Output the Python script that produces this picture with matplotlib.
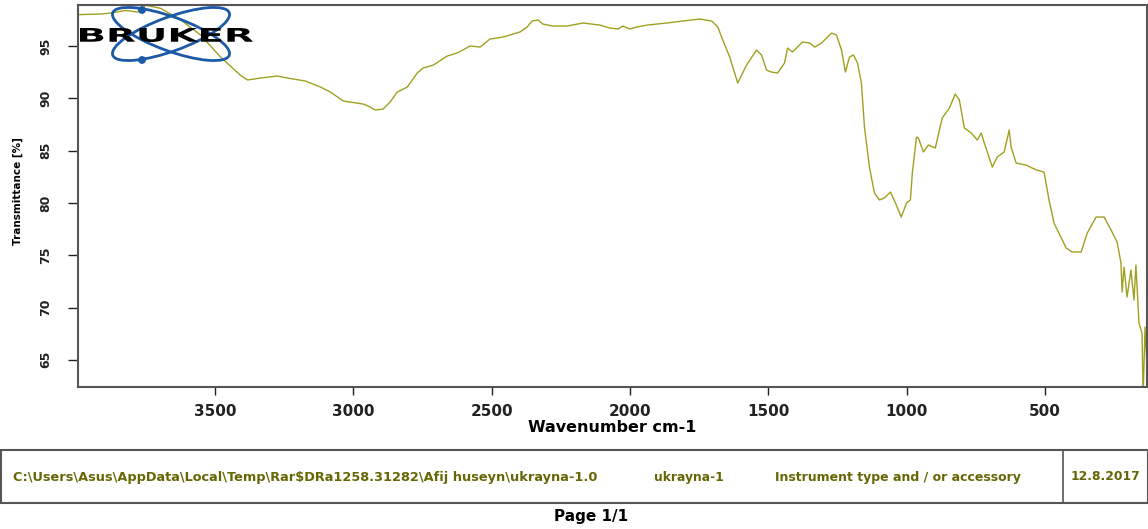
import numpy as np
import matplotlib
matplotlib.use("Agg")
import matplotlib.pyplot as plt
from matplotlib.patches import Ellipse, Circle, Rectangle, PathPatch
from matplotlib.textpath import TextPath
from matplotlib.font_manager import FontProperties
from matplotlib.transforms import Affine2D

# IR spectrum (wavenumber cm-1, transmittance %)
wavenumber = [3992, 3913, 3877, 3823, 3779, 3750, 3696, 3624, 3552, 3480,
              3408, 3382, 3336, 3274, 3238, 3173, 3119, 3083, 3036, 2964,
              2946, 2921, 2892, 2867, 2841, 2805, 2769, 2748, 2711, 2661,
              2625, 2578, 2542, 2506, 2459, 2398, 2372, 2354, 2333, 2315,
              2279, 2228, 2170, 2109, 2073, 2044, 2026, 2001, 1976, 1939,
              1867, 1810, 1748, 1705, 1683, 1665, 1640, 1611, 1579, 1543,
              1525, 1507, 1489, 1467, 1442, 1431, 1413, 1377, 1351, 1333,
              1308, 1272, 1254, 1236, 1222, 1207, 1193, 1178, 1164, 1153,
              1135, 1117, 1099, 1081, 1059, 1041, 1020, 1001, 987, 980,
              965, 958, 940, 922, 897, 872, 846, 825, 810, 792,
              767, 745, 731, 720, 691, 673, 648, 630, 623, 605,
              569, 532, 504, 486, 468, 424, 403, 370, 348, 316,
              287, 262, 240, 226, 222, 215, 204, 190, 179, 172,
              161, 150, 146, 139, 132]
transmittance = [98.0, 98.06, 98.15, 98.4, 98.25, 98.9, 98.6, 97.5, 96.05, 93.95,
                 92.2, 91.75, 91.94, 92.13, 91.94, 91.65, 91.08, 90.6, 89.74, 89.45,
                 89.26, 88.88, 88.98, 89.65, 90.6, 91.08, 92.42, 92.9, 93.18, 94.04,
                 94.33, 95.0, 94.9, 95.67, 95.86, 96.34, 96.82, 97.39, 97.49, 97.1,
                 96.91, 96.91, 97.2, 97.0, 96.72, 96.63, 96.91, 96.63, 96.82, 97.0,
                 97.2, 97.39, 97.58, 97.39, 96.82, 95.57, 93.95, 91.46, 93.18, 94.62,
                 94.14, 92.7, 92.51, 92.42, 93.37, 94.81, 94.43, 95.38, 95.29, 94.9,
                 95.29, 96.24, 96.05, 94.62, 92.51, 93.95, 94.14, 93.37, 91.46, 87.26,
                 83.43, 80.95, 80.28, 80.47, 81.04, 79.99, 78.65, 79.99, 80.28, 82.86,
                 86.3, 86.2, 84.87, 85.54, 85.25, 88.12, 89.07, 90.41, 89.84, 87.16,
                 86.68, 86.01, 86.68, 85.73, 83.43, 84.39, 84.87, 86.97, 85.34, 83.81,
                 83.62, 83.15, 82.95, 80.28, 78.08, 75.69, 75.31, 75.31, 77.12, 78.65,
                 78.65, 77.41, 76.26, 74.25, 71.48, 73.87, 71.0, 73.58, 70.72, 74.06,
                 68.52, 67.56, 61.5, 68.14, 64.3]

x_ticks = [3500, 3000, 2500, 2000, 1500, 1000, 500]
y_ticks = [95, 90, 85, 80, 75, 70, 65]

footer_path = r"C:\Users\Asus\AppData\Local\Temp\Rar$DRa1258.31282\Afij huseyn\ukrayna-1.0"
footer_sample = "ukrayna-1"
footer_instr = "Instrument type and / or accessory"
footer_date = "12.8.2017"

W, H = 1148, 529
line_col = "#a0a020"
text_col = "#666604"
font = "DejaVu Sans"

fig = plt.figure(figsize=(W / 100, H / 100), dpi=100)
fig.patch.set_facecolor("white")

ax = fig.add_axes([78 / W, 1 - 387 / H, (1147 - 78) / W, (387 - 4.7) / H])
ax.plot(wavenumber, transmittance, color=line_col, lw=1.0)
ax.set_xlim(3995, 132)
ax.set_ylim(62.4, 98.95)

ax.set_xticks(x_ticks)
ax.set_xticklabels([str(v) for v in x_ticks], fontsize=11, fontweight="bold", family=font)
ax.set_yticks(y_ticks)
ax.set_yticklabels([str(v) for v in y_ticks], fontsize=9, fontweight="bold",
                   family=font, rotation=90, va="center")
ax.tick_params(axis="x", direction="out", length=6, width=1, pad=6, colors="#222222")
ax.tick_params(axis="y", direction="out", length=7.5, width=1, pad=11, colors="#222222")
for s in ax.spines.values():
    s.set_color("#555555")
    s.set_linewidth(1.5)

fig.text(18 / W, 1 - 191 / H, "Transmittance [%]", rotation=90, fontsize=7.5,
         fontweight="bold", family=font, ha="center", va="center")
fig.text(612 / W, 1 - 427 / H, "Wavenumber cm-1", fontsize=11.5, fontweight="bold",
         family=font, ha="center", va="center")

# overlay in pixel units for logo and footer
ov = fig.add_axes([0, 0, 1, 1], zorder=5)
ov.set_xlim(0, W)
ov.set_ylim(H, 0)
ov.axis("off")
ov.patch.set_alpha(0)

# Bruker logo
blue = "#1b5aa6"
for ang in (20, -20):
    ov.add_patch(Ellipse((171, 34), 124, 34, angle=ang, fill=False, ec=blue, lw=2.0))
for cy in (10, 60):
    ov.add_patch(Circle((142, cy), 3.2, color=blue))
tp = TextPath((0, 0), "BRUKER", size=10, prop=FontProperties(family=font, weight="bold"))
bb = tp.get_extents()
sx = (253 - 80) / bb.width
sy = 14 / bb.height
tr = Affine2D().translate(-bb.x0, -bb.y0).scale(sx, -sy).translate(80, 42) + ov.transData
ov.add_patch(PathPatch(tp, transform=tr, fc="black", ec="none"))

# footer box
ov.add_patch(Rectangle((1, 450), W - 1, 52.5, fill=False, ec="#555555", lw=1.5))
ov.plot([1063, 1063], [450, 502.5], color="#555555", lw=1.2)
ov.text(13, 477, footer_path, fontsize=9.3, fontweight="bold", family=font,
        color=text_col, ha="left", va="center")
ov.text(654, 477, footer_sample, fontsize=8.8, fontweight="bold", family=font,
        color=text_col, ha="left", va="center")
ov.text(775, 477, footer_instr, fontsize=9.0, fontweight="bold", family=font,
        color=text_col, ha="left", va="center")
ov.text(1071, 477, footer_date, fontsize=8.8, fontweight="bold", family=font,
        color=text_col, ha="left", va="center")
ov.text(591, 517, "Page 1/1", fontsize=11, fontweight="bold", family=font,
        ha="center", va="center")

fig.savefig("out.png", dpi=100)
